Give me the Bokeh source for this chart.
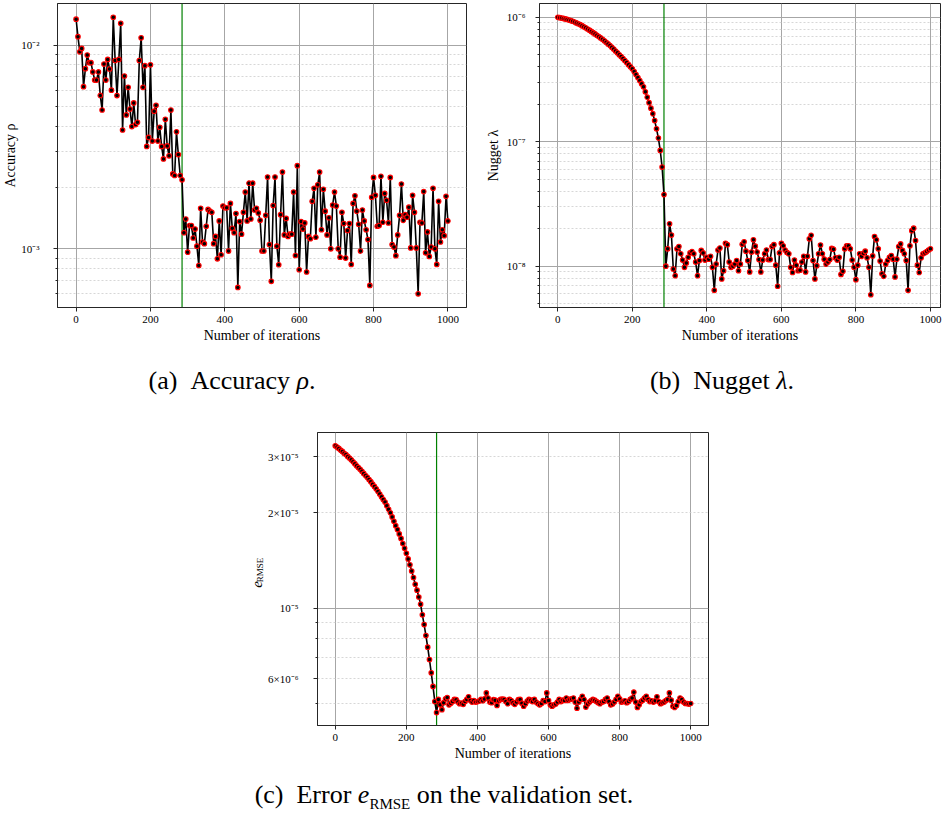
import math
from bokeh.plotting import figure
from bokeh.models import Range1d, FixedTicker, Span, Div, Spacer, CustomJSTickFormatter
from bokeh.layouts import row, column
from bokeh.core.properties import value
from bokeh.embed import file_html
from bokeh.resources import INLINE

# ---------------- data ----------------
iterations = list(range(0, 1001, 5))

accuracy = [
    0.0134, 0.0110, 0.00927, 0.00963, 0.00625, 0.00766, 0.00893, 0.0082, 0.0082, 0.00738,
    0.00673, 0.00673, 0.00738, 0.00566, 0.0048, 0.00807, 0.00673, 0.0085, 0.00763, 0.00601,
    0.0137, 0.0084, 0.00565, 0.0085, 0.0128, 0.00383, 0.00705, 0.00454, 0.0062, 0.00485,
    0.00398, 0.0052, 0.00407, 0.00418, 0.0084, 0.01086, 0.0062, 0.00792, 0.00318, 0.00352,
    0.0080, 0.00338, 0.00474, 0.00506, 0.00338, 0.00395, 0.00318, 0.00276, 0.00432, 0.0032,
    0.00286, 0.0048, 0.00233, 0.00229, 0.00375, 0.0029, 0.00229, 0.00218, 0.00120, 0.00140,
    0.000963, 0.00130, 0.00130, 0.00113, 0.00125, 0.00103, 0.000828, 0.00158, 0.00108, 0.00106,
    0.00129, 0.00156, 0.00153, 0.00151, 0.00106, 0.00115, 0.000893, 0.00137, 0.000935, 0.00162,
    0.00159, 0.00159, 0.000975, 0.00167, 0.00126, 0.00120, 0.00149, 0.000646, 0.00136, 0.00118,
    0.00151, 0.00190, 0.00137, 0.00210, 0.00140, 0.00210, 0.00155, 0.00158, 0.00150, 0.00138,
    0.000975, 0.000975, 0.00146, 0.00225, 0.00105, 0.000692, 0.00163, 0.00225, 0.00103, 0.000835,
    0.00147, 0.00238, 0.00117, 0.00141, 0.00115, 0.00118, 0.00118, 0.00190, 0.000927, 0.00256,
    0.000789, 0.00136, 0.00125, 0.00134, 0.000769, 0.00115, 0.00112, 0.00171, 0.00198, 0.00114,
    0.00206, 0.00238, 0.00124, 0.00196, 0.00153, 0.00117, 0.00142, 0.00100, 0.00164, 0.00190,
    0.00162, 0.00100, 0.000910, 0.00151, 0.00133, 0.000900, 0.00123, 0.00133, 0.000838, 0.00167,
    0.00182, 0.00153, 0.00132, 0.000975, 0.00155, 0.00137, 0.00124, 0.00111, 0.000661, 0.00179,
    0.00224, 0.00183, 0.00129, 0.00130, 0.00227, 0.00135, 0.00187, 0.00173, 0.00134, 0.00224,
    0.00105, 0.00102, 0.000925, 0.00117, 0.00146, 0.00208, 0.00138, 0.00147, 0.00143, 0.00160,
    0.00101, 0.00183, 0.00151, 0.00101, 0.000601, 0.00135, 0.00134, 0.00191, 0.000955, 0.00121,
    0.000917, 0.00102, 0.00198, 0.00100, 0.000838, 0.00171, 0.00108, 0.00124, 0.00116, 0.00181,
    0.00137,
]

nugget = [
    1.00e-6, 9.93e-7, 9.85e-7, 9.78e-7, 9.70e-7, 9.60e-7, 9.50e-7, 9.40e-7, 9.29e-7, 9.15e-7,
    9.01e-7, 8.87e-7, 8.73e-7, 8.56e-7, 8.39e-7, 8.22e-7, 8.05e-7, 7.87e-7, 7.70e-7, 7.52e-7,
    7.35e-7, 7.17e-7, 7.00e-7, 6.83e-7, 6.66e-7, 6.47e-7, 6.29e-7, 6.11e-7, 5.93e-7, 5.74e-7,
    5.55e-7, 5.36e-7, 5.18e-7, 5.00e-7, 4.83e-7, 4.66e-7, 4.49e-7, 4.33e-7, 4.16e-7, 4.00e-7,
    3.85e-7, 3.66e-7, 3.47e-7, 3.28e-7, 3.10e-7, 2.93e-7, 2.76e-7, 2.52e-7, 2.28e-7, 2.06e-7,
    1.86e-7, 1.68e-7, 1.48e-7, 1.27e-7, 1.07e-7, 8.51e-8, 6.26e-8, 3.76e-8, 1.00e-8, 1.38e-8,
    2.19e-8, 1.78e-8, 0.95e-8, 0.84e-8, 1.38e-8, 1.44e-8, 1.26e-8, 1.12e-8, 0.98e-8, 1.06e-8,
    1.18e-8, 1.28e-8, 1.31e-8, 1.26e-8, 1.08e-8, 0.84e-8, 1.11e-8, 1.34e-8, 1.28e-8, 1.12e-8,
    1.18e-8, 1.14e-8, 1.20e-8, 0.98e-8, 0.64e-8, 1.04e-8, 1.35e-8, 1.40e-8, 0.79e-8, 0.92e-8,
    1.53e-8, 1.49e-8, 1.08e-8, 0.98e-8, 1.00e-8, 1.04e-8, 1.11e-8, 0.92e-8, 1.04e-8, 1.50e-8,
    1.57e-8, 1.32e-8, 1.11e-8, 0.90e-8, 1.30e-8, 1.63e-8, 1.45e-8, 1.30e-8, 1.13e-8, 0.90e-8,
    1.12e-8, 1.26e-8, 1.35e-8, 1.13e-8, 1.13e-8, 1.44e-8, 1.49e-8, 1.02e-8, 0.69e-8, 1.28e-8,
    1.53e-8, 1.46e-8, 1.35e-8, 1.29e-8, 1.26e-8, 0.98e-8, 0.89e-8, 1.12e-8, 1.02e-8, 0.92e-8,
    0.93e-8, 1.08e-8, 1.20e-8, 0.90e-8, 1.20e-8, 1.66e-8, 1.77e-8, 1.11e-8, 0.79e-8, 1.01e-8,
    1.26e-8, 1.48e-8, 1.26e-8, 1.14e-8, 1.04e-8, 1.08e-8, 1.13e-8, 1.39e-8, 1.37e-8, 1.17e-8,
    1.12e-8, 1.18e-8, 0.86e-8, 0.91e-8, 1.38e-8, 1.46e-8, 1.46e-8, 1.38e-8, 1.12e-8, 0.98e-8,
    0.78e-8, 1.02e-8, 1.26e-8, 1.20e-8, 1.27e-8, 1.32e-8, 1.17e-8, 0.98e-8, 0.59e-8, 1.21e-8,
    1.73e-8, 1.63e-8, 1.38e-8, 1.10e-8, 0.87e-8, 0.83e-8, 1.04e-8, 1.11e-8, 1.18e-8, 1.22e-8,
    1.14e-8, 0.82e-8, 1.14e-8, 1.44e-8, 1.51e-8, 1.34e-8, 1.26e-8, 1.11e-8, 0.64e-8, 1.46e-8,
    1.93e-8, 2.02e-8, 1.61e-8, 1.02e-8, 0.89e-8, 1.17e-8, 1.26e-8, 1.28e-8, 1.31e-8, 1.35e-8,
    1.38e-8,
]

rmse = [
    3.25e-5, 3.22e-5, 3.19e-5, 3.15e-5, 3.12e-5, 3.08e-5, 3.05e-5, 3.01e-5, 2.975e-5, 2.935e-5,
    2.895e-5, 2.855e-5, 2.81e-5, 2.775e-5, 2.74e-5, 2.70e-5, 2.66e-5, 2.62e-5, 2.585e-5, 2.545e-5,
    2.505e-5, 2.46e-5, 2.42e-5, 2.38e-5, 2.335e-5, 2.29e-5, 2.245e-5, 2.20e-5, 2.16e-5, 2.105e-5,
    2.05e-5, 2.00e-5, 1.94e-5, 1.88e-5, 1.82e-5, 1.77e-5, 1.715e-5, 1.66e-5, 1.60e-5, 1.545e-5,
    1.49e-5, 1.43e-5, 1.37e-5, 1.31e-5, 1.25e-5, 1.19e-5, 1.14e-5, 1.085e-5, 1.03e-5, 9.53e-6,
    8.88e-6, 8.20e-6, 7.54e-6, 6.89e-6, 6.26e-6, 5.67e-6, 5.08e-6, 4.69e-6, 5.16e-6, 4.96e-6,
    4.79e-6, 5.04e-6, 5.18e-6, 5.23e-6, 4.96e-6, 5.02e-6, 5.08e-6, 5.16e-6, 5.15e-6, 5.06e-6,
    5.00e-6, 5.02e-6, 4.98e-6, 5.08e-6, 5.16e-6, 5.26e-6, 5.12e-6, 5.06e-6, 5.12e-6, 5.06e-6,
    5.08e-6, 5.10e-6, 5.16e-6, 5.11e-6, 5.18e-6, 5.41e-6, 5.21e-6, 5.06e-6, 5.04e-6, 5.15e-6,
    5.13e-6, 4.94e-6, 5.11e-6, 5.16e-6, 5.17e-6, 5.16e-6, 5.08e-6, 5.00e-6, 5.16e-6, 5.12e-6,
    5.04e-6, 4.98e-6, 5.06e-6, 5.15e-6, 5.16e-6, 5.02e-6, 4.91e-6, 5.00e-6, 5.10e-6, 5.16e-6,
    5.13e-6, 5.08e-6, 5.16e-6, 5.06e-6, 5.01e-6, 4.96e-6, 5.01e-6, 5.12e-6, 5.08e-6, 5.41e-6,
    5.12e-6, 4.96e-6, 4.91e-6, 4.96e-6, 4.99e-6, 5.06e-6, 5.16e-6, 5.08e-6, 5.13e-6, 5.12e-6,
    5.21e-6, 5.12e-6, 5.16e-6, 5.18e-6, 5.21e-6, 5.06e-6, 4.84e-6, 5.06e-6, 5.16e-6, 5.28e-6,
    5.16e-6, 4.88e-6, 4.99e-6, 5.06e-6, 5.12e-6, 5.16e-6, 5.13e-6, 5.08e-6, 5.04e-6, 5.00e-6,
    5.06e-6, 5.08e-6, 5.16e-6, 5.21e-6, 5.08e-6, 4.96e-6, 4.99e-6, 5.06e-6, 5.16e-6, 5.28e-6,
    5.18e-6, 5.06e-6, 5.08e-6, 5.11e-6, 5.04e-6, 5.08e-6, 5.16e-6, 5.21e-6, 5.44e-6, 5.06e-6,
    4.87e-6, 4.96e-6, 5.08e-6, 5.13e-6, 5.21e-6, 5.28e-6, 5.16e-6, 5.08e-6, 5.11e-6, 5.06e-6,
    5.11e-6, 5.26e-6, 5.08e-6, 5.00e-6, 5.04e-6, 5.06e-6, 5.12e-6, 5.16e-6, 5.41e-6, 5.13e-6,
    4.91e-6, 4.87e-6, 4.94e-6, 5.08e-6, 5.21e-6, 5.16e-6, 5.06e-6, 5.01e-6, 5.01e-6, 4.99e-6,
    5.01e-6,
]

change_iteration = 285
x_ticks = [0, 200, 400, 600, 800, 1000]

acc_ticks = [1e-3, 1e-2]
acc_tick_text = ["10\u207b\u00b3", "10\u207b\u00b2"]
nug_ticks = [1e-8, 1e-7, 1e-6]
nug_tick_text = ["10\u207b\u2078", "10\u207b\u2077", "10\u207b\u2076"]
rmse_ticks = [6e-6, 1e-5, 2e-5, 3e-5]
rmse_tick_text = ["6\u00d710\u207b\u2076", "10\u207b\u2075", "2\u00d710\u207b\u2075", "3\u00d710\u207b\u2075"]

# ---------------- styling ----------------
SERIF = "Liberation Serif"
FRAME = "#262626"
GRID = "#a6a6a6"
MINOR = "#cdcdcd"

LABEL_JS = """
for (let i = 0; i < tick_values.length; i++) {
    if (Math.abs(Math.log10(tick) - Math.log10(tick_values[i])) < 1e-6) {
        return tick_texts[i];
    }
}
return "";
"""


def minors(lo_exp, hi_exp):
    return [m * 10.0 ** e for e in range(lo_exp, hi_exp + 1) for m in range(2, 10)]


def build(width, height, borders, xr, yr, ymajor, ytexts, yminor, gmajor, gminor,
          values, ylabel, y_standoff, ylabel_standoff):
    left, right, top, bottom = borders
    p = figure(width=width, height=height, x_range=Range1d(*xr), y_range=Range1d(*yr),
               y_axis_type="log", output_backend="svg", toolbar_location=None,
               min_border_left=left, min_border_right=right,
               min_border_top=top, min_border_bottom=bottom,
               background_fill_color="white", border_fill_color="white")
    p.outline_line_color = FRAME
    p.outline_line_width = 1
    p.outline_line_alpha = 1

    p.xaxis.ticker = FixedTicker(ticks=x_ticks)
    p.yaxis.ticker = FixedTicker(ticks=ymajor, minor_ticks=yminor)
    p.yaxis.formatter = CustomJSTickFormatter(
        args=dict(tick_values=ymajor, tick_texts=ytexts), code=LABEL_JS)

    p.xgrid.ticker = FixedTicker(ticks=x_ticks)
    p.ygrid.ticker = FixedTicker(ticks=gmajor, minor_ticks=gminor)
    for g in (p.xgrid, p.ygrid):
        g.grid_line_color = GRID
        g.grid_line_width = 1
    p.ygrid.minor_grid_line_color = MINOR
    p.ygrid.minor_grid_line_dash = "2 2"
    p.ygrid.minor_grid_line_width = 0.8

    for ax in (p.xaxis, p.yaxis):
        ax.axis_line_color = FRAME
        ax.major_tick_line_color = FRAME
        ax.minor_tick_line_color = FRAME
        ax.major_tick_in = 0
        ax.major_tick_out = 4
        ax.minor_tick_in = 0
        ax.minor_tick_out = 2
        ax.major_label_text_font = SERIF
        ax.major_label_text_font_size = "11px"
        ax.major_label_text_color = "black"
        ax.axis_label_text_font = SERIF
        ax.axis_label_text_font_size = "14px"
        ax.axis_label_text_font_style = "normal"
        ax.axis_label_text_color = "black"
    p.xaxis.minor_tick_line_color = None
    p.xaxis.major_label_standoff = 4
    p.yaxis.major_label_standoff = y_standoff
    p.xaxis.axis_label = "Number of iterations"
    p.xaxis.axis_label_standoff = 2
    if ylabel:
        p.yaxis.axis_label = ylabel
        p.yaxis.axis_label_standoff = ylabel_standoff

    p.add_layout(Span(location=change_iteration, dimension="height",
                      line_color="green", line_width=1.2, level="underlay"))
    p.line(iterations, values, line_color="black", line_width=1.6)
    p.scatter(iterations, values, marker="circle", size=4.6, fill_color="black",
              line_color="red", line_width=1.1)
    return p


pa = build(480, 349, (57, 14, 3, 42), (-50, 1050), (5.15e-4, 1.60e-2),
           acc_ticks, acc_tick_text, minors(-4, -2), acc_ticks, minors(-4, -2),
           accuracy, "Accuracy \u03c1", 14, 0)

pb = build(462, 349, (59, 2, 3, 42), (-49, 1027), (4.66e-9, 1.29e-6),
           nug_ticks, nug_tick_text, minors(-9, -6), nug_ticks, minors(-9, -6),
           nugget, "Nugget \u03bb", 10, 3)

pc = build(454, 345, (49, 10, 12, 40), (-50, 1050), (4.27e-6, 3.58e-5),
           rmse_ticks, rmse_tick_text, [5e-6, 7e-6, 8e-6, 9e-6], [1e-5],
           [5e-6, 6e-6, 7e-6, 8e-6, 9e-6, 2e-5, 3e-5],
           rmse, None, 15, 0)

# y-axis label e_RMSE for panel (c), drawn in a narrow text-only strip
ylab = figure(width=28, height=345, x_range=Range1d(0, 28), y_range=Range1d(0, 345),
              output_backend="svg", toolbar_location=None,
              x_axis_location=None, y_axis_location=None,
              min_border_left=0, min_border_right=0, min_border_top=0, min_border_bottom=0,
              background_fill_color="white", border_fill_color="white")
ylab.outline_line_color = None
ylab.grid.visible = False
ylab.text(x=[20.5], y=[166], text=["e"], angle=math.pi / 2,
          text_font=value(SERIF), text_font_size="15px", text_font_style="italic",
          text_align="center", text_baseline="middle", text_color="black")
ylab.text(x=[23.0], y=[183], text=["RMSE"], angle=math.pi / 2,
          text_font=value(SERIF), text_font_size="9px",
          text_align="center", text_baseline="middle", text_color="black")


def caption(html, width, height, pad):
    style = ("display:block;width:%dpx;font-family:'Liberation Serif',serif;font-size:26px;"
             "line-height:26px;padding-top:%dpx;text-align:center;color:#000;"
             "white-space:nowrap;" % (width, pad))
    return Div(text='<div style="%s">%s</div>' % (style, html),
               width=width, height=height, margin=0)


cap_a = caption("(a)&ensp;Accuracy <i>\u03c1</i>.", 240, 71, 19)
cap_b = caption("(b)&ensp;Nugget <i>\u03bb</i>.", 240, 71, 19)
cap_c = caption("(c)&ensp;Error <i>e</i><sub style='font-size:15px'>RMSE</sub> on the validation set.",
                480, 46, 17)

layout = column(
    row(pa, pb),
    row(Spacer(width=112, height=71, margin=0), cap_a,
        Spacer(width=250, height=71, margin=0), cap_b),
    row(Spacer(width=236, height=345, margin=0), ylab, pc),
    row(Spacer(width=204, height=46, margin=0), cap_c),
)

open("out.html", "w", encoding="utf-8").write(file_html(layout, INLINE, "Training history"))
